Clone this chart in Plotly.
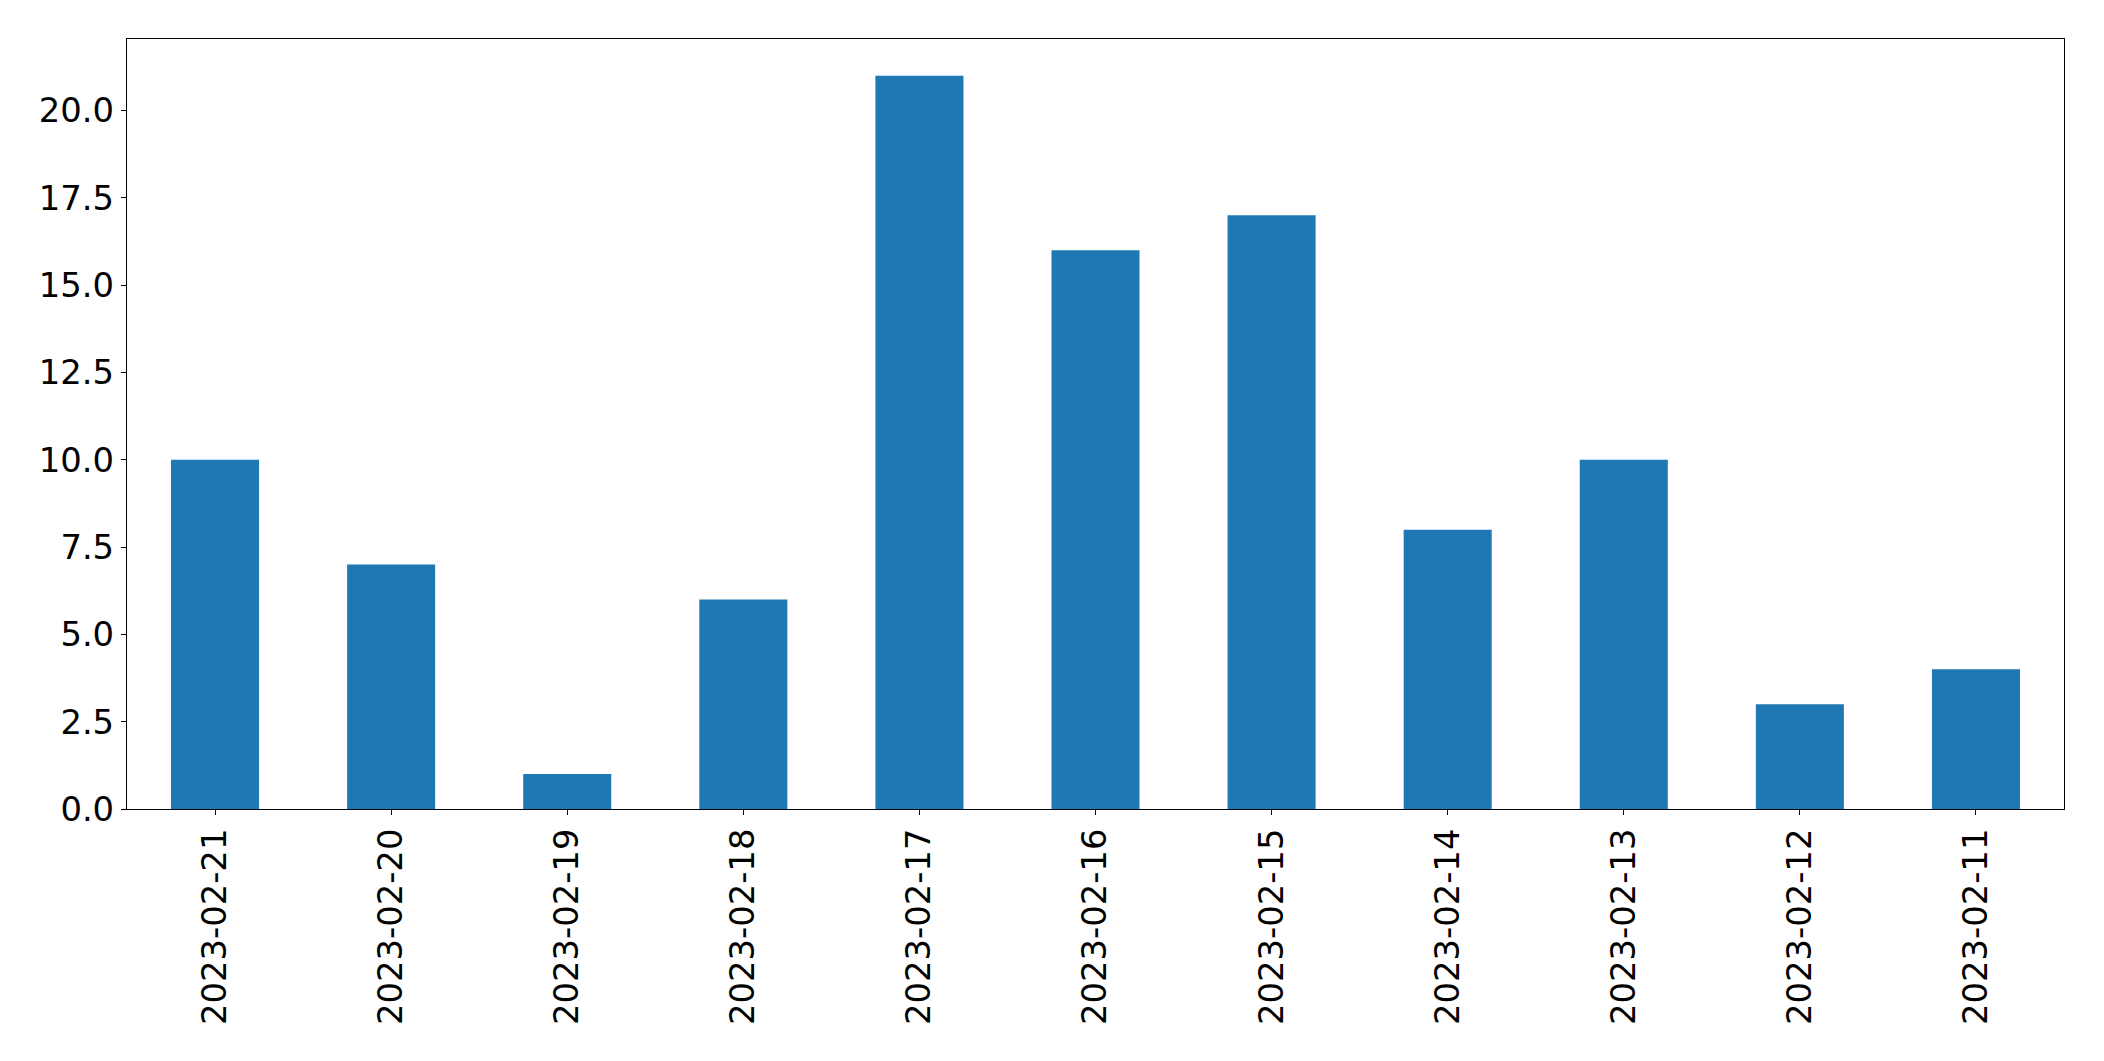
import plotly.graph_objects as go

dates = ["2023-02-21", "2023-02-20", "2023-02-19", "2023-02-18", "2023-02-17", "2023-02-16",
         "2023-02-15", "2023-02-14", "2023-02-13", "2023-02-12", "2023-02-11"]
counts = [10, 7, 1, 6, 21, 16, 17, 8, 10, 3, 4]
y_ticks = [0, 2.5, 5, 7.5, 10, 12.5, 15, 17.5, 20]

fig = go.Figure(go.Bar(x=dates, y=counts, width=0.5, marker=dict(color="#1f77b4", line=dict(width=0))))

font = dict(family="DejaVu Sans", size=33.8, color="black")
fig.update_layout(
    width=2088, height=1045,
    margin=dict(l=119, r=32, t=31, b=244),
    plot_bgcolor="white", paper_bgcolor="white",
    showlegend=False,
    font=font,
)
fig.update_xaxes(type="category", range=[-0.5, len(dates) - 0.5], tickangle=-90,
                 showline=True, linecolor="black", linewidth=1.2, mirror=True,
                 ticks="outside", ticklen=5, tickwidth=1.2, tickcolor="black",
                 showgrid=False, tickfont=font)
fig.update_yaxes(range=[0, 22.05], tickvals=y_ticks, tickformat=".1f",
                 showline=True, linecolor="black", linewidth=1.2, mirror=True,
                 ticks="outside", ticklen=5, tickwidth=1.2, tickcolor="black",
                 showgrid=False, zeroline=False, tickfont=font)

fig.write_html("out.html")
